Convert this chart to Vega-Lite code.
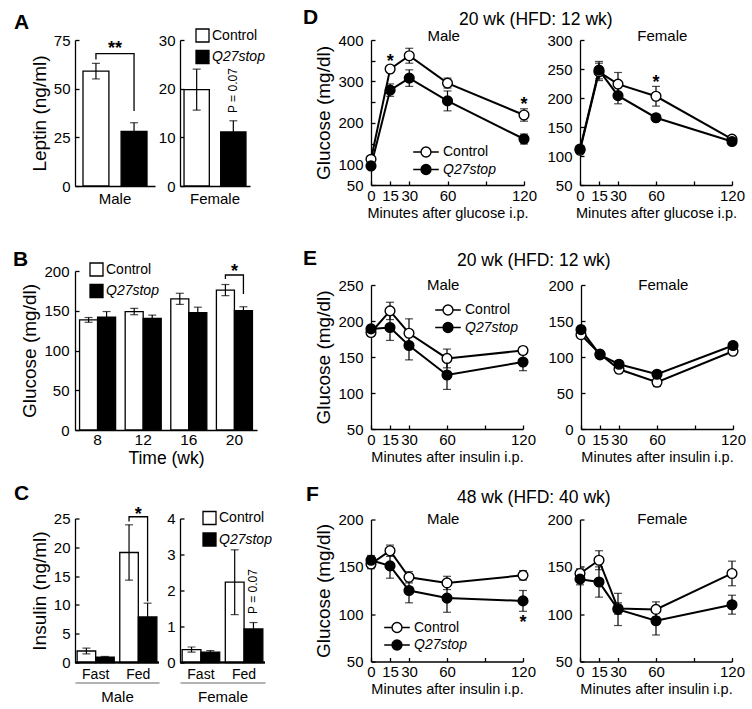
{
  "$schema": "https://vega.github.io/schema/vega-lite/v6.json",
  "padding": {"left": 13, "top": 7, "right": 0, "bottom": 0},
  "background": "white",
  "config": {
    "font": "Liberation Sans",
    "view": {"stroke": null},
    "axis": {"grid": false, "domainColor": "black", "domainWidth": 1.3, "tickColor": "black", "tickWidth": 1.3, "tickSize": -4, "labelPadding": 8, "labelFontSize": 15, "labelColor": "black", "titleFontSize": 19, "titleFontWeight": "normal", "titleColor": "black", "titlePadding": 4, "labelFlush": false, "labelOverlap": false},
    "legend": {"labelFontSize": 14, "labelColor": "black", "padding": 0, "symbolStrokeColor": "black", "symbolStrokeWidth": 1.3, "symbolOpacity": 1},
    "title": {"fontSize": 21, "fontWeight": "bold", "color": "black", "anchor": "start", "frame": "group", "baseline": "alphabetic"},
    "text": {"color": "black"}
  },
  "datasets": {
    "leptin": [
      {"sex": "Male", "group": "Control", "mean": 59, "sem": 4},
      {"sex": "Male", "group": "Q27stop", "mean": 28, "sem": 4.5},
      {"sex": "Female", "group": "Control", "mean": 19.8, "sem": 4.2},
      {"sex": "Female", "group": "Q27stop", "mean": 11.1, "sem": 2.3}
    ],
    "glucose": [
      {"week": 8, "group": "Control", "mean": 138.5, "sem": 3},
      {"week": 8, "group": "Q27stop", "mean": 142, "sem": 7},
      {"week": 12, "group": "Control", "mean": 149, "sem": 4},
      {"week": 12, "group": "Q27stop", "mean": 140.5, "sem": 4},
      {"week": 16, "group": "Control", "mean": 165, "sem": 7},
      {"week": 16, "group": "Q27stop", "mean": 147.5, "sem": 7},
      {"week": 20, "group": "Control", "mean": 176, "sem": 7},
      {"week": 20, "group": "Q27stop", "mean": 150, "sem": 5}
    ],
    "insulin": [
      {"sex": "Male", "state": "Fast", "group": "Control", "mean": 2.0, "sem": 0.5},
      {"sex": "Male", "state": "Fast", "group": "Q27stop", "mean": 0.95, "sem": 0.1},
      {"sex": "Male", "state": "Fed", "group": "Control", "mean": 19.1, "sem": 4.8},
      {"sex": "Male", "state": "Fed", "group": "Q27stop", "mean": 7.9, "sem": 2.4},
      {"sex": "Female", "state": "Fast", "group": "Control", "mean": 0.36, "sem": 0.07},
      {"sex": "Female", "state": "Fast", "group": "Q27stop", "mean": 0.29, "sem": 0.04},
      {"sex": "Female", "state": "Fed", "group": "Control", "mean": 2.23, "sem": 0.9},
      {"sex": "Female", "state": "Fed", "group": "Q27stop", "mean": 0.93, "sem": 0.18}
    ],
    "gtt": [
      {"sex": "Male", "t": 0, "group": "Control", "mean": 112, "sem": 5},
      {"sex": "Male", "t": 0, "group": "Q27stop", "mean": 96, "sem": 4},
      {"sex": "Male", "t": 15, "group": "Control", "mean": 330, "sem": 8},
      {"sex": "Male", "t": 15, "group": "Q27stop", "mean": 279, "sem": 15},
      {"sex": "Male", "t": 30, "group": "Control", "mean": 362, "sem": 18},
      {"sex": "Male", "t": 30, "group": "Q27stop", "mean": 308, "sem": 20},
      {"sex": "Male", "t": 60, "group": "Control", "mean": 296, "sem": 12},
      {"sex": "Male", "t": 60, "group": "Q27stop", "mean": 253, "sem": 24},
      {"sex": "Male", "t": 120, "group": "Control", "mean": 219, "sem": 15},
      {"sex": "Male", "t": 120, "group": "Q27stop", "mean": 161, "sem": 12},
      {"sex": "Female", "t": 0, "group": "Control", "mean": 110, "sem": 5},
      {"sex": "Female", "t": 0, "group": "Q27stop", "mean": 112, "sem": 5},
      {"sex": "Female", "t": 15, "group": "Control", "mean": 245, "sem": 15},
      {"sex": "Female", "t": 15, "group": "Q27stop", "mean": 248, "sem": 15},
      {"sex": "Female", "t": 30, "group": "Control", "mean": 224, "sem": 20},
      {"sex": "Female", "t": 30, "group": "Q27stop", "mean": 204, "sem": 14},
      {"sex": "Female", "t": 60, "group": "Control", "mean": 203, "sem": 17},
      {"sex": "Female", "t": 60, "group": "Q27stop", "mean": 166, "sem": 5},
      {"sex": "Female", "t": 120, "group": "Control", "mean": 129, "sem": 4},
      {"sex": "Female", "t": 120, "group": "Q27stop", "mean": 125, "sem": 4}
    ],
    "itt20": [
      {"sex": "Male", "t": 0, "group": "Control", "mean": 184, "sem": 5},
      {"sex": "Male", "t": 0, "group": "Q27stop", "mean": 189, "sem": 5},
      {"sex": "Male", "t": 15, "group": "Control", "mean": 214, "sem": 12},
      {"sex": "Male", "t": 15, "group": "Q27stop", "mean": 191, "sem": 18},
      {"sex": "Male", "t": 30, "group": "Control", "mean": 183, "sem": 20},
      {"sex": "Male", "t": 30, "group": "Q27stop", "mean": 166, "sem": 20},
      {"sex": "Male", "t": 60, "group": "Control", "mean": 148, "sem": 13},
      {"sex": "Male", "t": 60, "group": "Q27stop", "mean": 125, "sem": 20},
      {"sex": "Male", "t": 120, "group": "Control", "mean": 159, "sem": 5},
      {"sex": "Male", "t": 120, "group": "Q27stop", "mean": 143, "sem": 12},
      {"sex": "Female", "t": 0, "group": "Control", "mean": 131, "sem": 5},
      {"sex": "Female", "t": 0, "group": "Q27stop", "mean": 138, "sem": 5},
      {"sex": "Female", "t": 15, "group": "Control", "mean": 104, "sem": 5},
      {"sex": "Female", "t": 15, "group": "Q27stop", "mean": 103, "sem": 5},
      {"sex": "Female", "t": 30, "group": "Control", "mean": 83, "sem": 5},
      {"sex": "Female", "t": 30, "group": "Q27stop", "mean": 90, "sem": 5},
      {"sex": "Female", "t": 60, "group": "Control", "mean": 65, "sem": 6},
      {"sex": "Female", "t": 60, "group": "Q27stop", "mean": 76, "sem": 5},
      {"sex": "Female", "t": 120, "group": "Control", "mean": 108, "sem": 4},
      {"sex": "Female", "t": 120, "group": "Q27stop", "mean": 116, "sem": 4}
    ],
    "itt48": [
      {"sex": "Male", "t": 0, "group": "Control", "mean": 153, "sem": 5},
      {"sex": "Male", "t": 0, "group": "Q27stop", "mean": 157, "sem": 5},
      {"sex": "Male", "t": 15, "group": "Control", "mean": 167, "sem": 6},
      {"sex": "Male", "t": 15, "group": "Q27stop", "mean": 151, "sem": 13},
      {"sex": "Male", "t": 30, "group": "Control", "mean": 139, "sem": 6},
      {"sex": "Male", "t": 30, "group": "Q27stop", "mean": 125, "sem": 13},
      {"sex": "Male", "t": 60, "group": "Control", "mean": 133, "sem": 7},
      {"sex": "Male", "t": 60, "group": "Q27stop", "mean": 117, "sem": 15},
      {"sex": "Male", "t": 120, "group": "Control", "mean": 141, "sem": 5},
      {"sex": "Male", "t": 120, "group": "Q27stop", "mean": 114, "sem": 11},
      {"sex": "Female", "t": 0, "group": "Control", "mean": 143, "sem": 5},
      {"sex": "Female", "t": 0, "group": "Q27stop", "mean": 137, "sem": 6},
      {"sex": "Female", "t": 15, "group": "Control", "mean": 157, "sem": 10},
      {"sex": "Female", "t": 15, "group": "Q27stop", "mean": 134, "sem": 16},
      {"sex": "Female", "t": 30, "group": "Control", "mean": 106, "sem": 6},
      {"sex": "Female", "t": 30, "group": "Q27stop", "mean": 105, "sem": 17},
      {"sex": "Female", "t": 60, "group": "Control", "mean": 105, "sem": 8},
      {"sex": "Female", "t": 60, "group": "Q27stop", "mean": 93, "sem": 15},
      {"sex": "Female", "t": 120, "group": "Control", "mean": 143, "sem": 13},
      {"sex": "Female", "t": 120, "group": "Q27stop", "mean": 110, "sem": 10}
    ]
  },
  "spacing": 31,
  "resolve": {"scale": {"fill": "independent", "xOffset": "independent"}, "legend": {"fill": "independent"}},
  "hconcat": [
    {
      "spacing": 15.5,
      "resolve": {"scale": {"fill": "independent", "xOffset": "independent"}, "legend": {"fill": "independent"}},
      "vconcat": [
        {
          "spacing": 43,
          "resolve": {"scale": {"fill": "independent", "xOffset": "independent"}, "legend": {"fill": "independent"}},
          "vconcat": [
            {
              "spacing": 25,
              "bounds": "flush",
              "resolve": {"scale": {"fill": "independent", "xOffset": "independent"}, "legend": {"fill": "independent"}},
              "hconcat": [
                {
                  "width": 80, "height": 146,
                  "title": {"text": "A", "dx": -61, "offset": 0},
                  "data": {"name": "leptin"},
                  "transform": [{"filter": "datum.sex == 'Male'"}],
                  "encoding": {
                    "x": {"field": "sex", "type": "nominal", "title": null, "scale": {"paddingInner": 0, "paddingOuter": 0}, "axis": {"labelPadding": 5, "ticks": false, "labelAngle": 0, "labelFontSize": 15}},
                    "y": {"field": "mean", "type": "quantitative", "scale": {"domain": [0, 75]}, "axis": {"values": [0, 25, 50, 75], "title": "Leptin (ng/ml)", "labelPadding": 9}}
                  },
                  "layer": [
                    {"mark": {"type": "bar", "stroke": "black", "strokeWidth": 1.3},
                     "encoding": {
                       "xOffset": {"field": "group", "type": "nominal", "scale": {"domain": ["Control", "Q27stop"], "paddingInner": 0.32, "paddingOuter": 0.21}},
                       "fill": {"field": "group", "type": "nominal", "scale": {"domain": ["Control", "Q27stop"], "range": ["white", "black"]}, "legend": null}}},
                    {"mark": {"type": "errorbar", "ticks": {"size": 8}, "thickness": 1.2, "color": "black"},
                     "encoding": {"xOffset": {"field": "group", "type": "nominal"}, "yError": {"field": "sem"}}},
                    {"data": {"values": [
                      {"sex": "Male", "group": "Control", "y": 65, "ord": 0},
                      {"sex": "Male", "group": "Control", "y": 68, "ord": 1},
                      {"sex": "Male", "group": "Q27stop", "y": 68, "ord": 2},
                      {"sex": "Male", "group": "Q27stop", "y": 38.5, "ord": 3}]},
                     "mark": {"type": "line", "color": "black", "strokeWidth": 1.3},
                     "encoding": {"xOffset": {"field": "group", "type": "nominal"}, "y": {"field": "y", "type": "quantitative"}, "order": {"field": "ord", "type": "quantitative"}}},
                    {"data": {"values": [{"sex": "Male", "y": 68}]},
                     "mark": {"type": "text", "text": "**", "fontSize": 18, "fontWeight": "bold", "baseline": "alphabetic"},
                     "encoding": {"y": {"field": "y", "type": "quantitative"}}}
                  ]
                },
                {
                  "width": 70, "height": 146,
                  "data": {"name": "leptin"},
                  "transform": [{"filter": "datum.sex == 'Female'"}],
                  "encoding": {
                    "x": {"field": "sex", "type": "nominal", "title": null, "scale": {"paddingInner": 0, "paddingOuter": 0}, "axis": {"labelPadding": 5, "ticks": false, "labelAngle": 0, "labelFontSize": 15}},
                    "y": {"field": "mean", "type": "quantitative", "scale": {"domain": [0, 30]}, "axis": {"values": [0, 10, 20, 30], "title": null, "labelPadding": 9}}
                  },
                  "layer": [
                    {"mark": {"type": "bar", "stroke": "black", "strokeWidth": 1.3},
                     "encoding": {
                       "xOffset": {"field": "group", "type": "nominal", "scale": {"domain": ["Control", "Q27stop"], "paddingInner": 0.31, "paddingOuter": 0.11}},
                       "fill": {"field": "group", "type": "nominal", "scale": {"domain": ["Control", "Q27stop"], "range": ["white", "black"]},
                                "legend": {"orient": "none", "legendX": 15, "legendY": -12, "title": null, "symbolType": "square", "symbolSize": 169, "labelOffset": 2, "rowPadding": 2.5, "labelFontStyle": {"expr": "datum.label == 'Q27stop' ? 'italic' : 'normal'"}}}}},
                    {"mark": {"type": "errorbar", "ticks": {"size": 8}, "thickness": 1.2, "color": "black"},
                     "encoding": {"xOffset": {"field": "group", "type": "nominal"}, "yError": {"field": "sem"}}},
                    {"data": {"values": [{"sex": "Female", "group": "Q27stop", "y": 15}]},
                     "mark": {"type": "text", "text": "P = 0.07", "fontSize": 12, "angle": 270, "align": "left", "baseline": "middle"},
                     "encoding": {"xOffset": {"field": "group", "type": "nominal"}, "y": {"field": "y", "type": "quantitative"}}}
                  ]
                }
              ]
            },
            {
              "width": 182, "height": 159,
              "title": {"text": "B", "dx": -62, "offset": -5, "dy": 3},
              "data": {"name": "glucose"},
              "encoding": {
                "x": {"field": "week", "type": "ordinal", "scale": {"paddingInner": 0.21, "paddingOuter": 0.1}, "axis": {"title": "Time (wk)", "titleFontSize": 17.5, "labelPadding": 2, "titlePadding": 2, "ticks": false, "labelAngle": 0, "labelFontSize": 15.5}},
                "y": {"field": "mean", "type": "quantitative", "scale": {"domain": [0, 200]}, "axis": {"values": [0, 50, 100, 150, 200], "title": "Glucose (mg/dl)", "labelPadding": 10}}
              },
              "layer": [
                {"mark": {"type": "bar", "stroke": "black", "strokeWidth": 1.3},
                 "encoding": {
                   "xOffset": {"field": "group", "type": "nominal", "scale": {"domain": ["Control", "Q27stop"], "paddingInner": 0, "paddingOuter": 0}},
                   "fill": {"field": "group", "type": "nominal", "scale": {"domain": ["Control", "Q27stop"], "range": ["white", "black"]},
                            "legend": {"orient": "none", "legendX": 14, "legendY": -9, "title": null, "symbolType": "square", "symbolSize": 169, "labelOffset": 2, "rowPadding": 2.5, "labelFontStyle": {"expr": "datum.label == 'Q27stop' ? 'italic' : 'normal'"}}}}},
                {"mark": {"type": "errorbar", "ticks": {"size": 8}, "thickness": 1.2, "color": "black"},
                 "encoding": {"xOffset": {"field": "group", "type": "nominal"}, "yError": {"field": "sem"}}},
                {"data": {"values": [
                  {"week": 20, "group": "Control", "y": 190, "ord": 0},
                  {"week": 20, "group": "Control", "y": 195, "ord": 1},
                  {"week": 20, "group": "Q27stop", "y": 195, "ord": 2},
                  {"week": 20, "group": "Q27stop", "y": 171, "ord": 3}]},
                 "mark": {"type": "line", "color": "black", "strokeWidth": 1.3},
                 "encoding": {"xOffset": {"field": "group", "type": "nominal"}, "y": {"field": "y", "type": "quantitative"}, "order": {"field": "ord", "type": "quantitative"}}},
                {"data": {"values": [{"week": 20, "y": 192}]},
                 "mark": {"type": "text", "text": "*", "fontSize": 18, "fontWeight": "bold", "baseline": "alphabetic"},
                 "encoding": {"y": {"field": "y", "type": "quantitative"}}}
              ]
            }
          ]
        },
        {
          "spacing": 21,
          "bounds": "flush",
          "resolve": {"scale": {"fill": "independent", "xOffset": "independent"}, "legend": {"fill": "independent"}},
          "hconcat": [
            {
              "width": 84, "height": 144,
              "title": {"text": "C", "dx": -61, "offset": 2},
              "data": {"name": "insulin"},
              "transform": [{"filter": "datum.sex == 'Male'"}],
              "encoding": {
                "y": {"field": "mean", "type": "quantitative", "scale": {"domain": [0, 25]}, "axis": {"values": [0, 5, 10, 15, 20, 25], "title": "Insulin (ng/ml)", "labelPadding": 9}}
              },
              "layer": [
                {"mark": {"type": "bar", "stroke": "black", "strokeWidth": 1.3},
                 "encoding": {
                   "x": {"field": "state", "type": "nominal", "scale": {"paddingInner": 0.13, "paddingOuter": 0.05}, "axis": {"title": "Male", "titleFontSize": 15, "titlePadding": 7, "offset": 20, "domainColor": "#999999", "domainWidth": 1.5, "labelPadding": -15, "ticks": false, "labelAngle": 0, "labelFontSize": 14}},
                   "xOffset": {"field": "group", "type": "nominal", "scale": {"domain": ["Control", "Q27stop"], "paddingInner": 0, "paddingOuter": 0}},
                   "fill": {"field": "group", "type": "nominal", "scale": {"domain": ["Control", "Q27stop"], "range": ["white", "black"]}, "legend": null}}},
                {"mark": {"type": "errorbar", "ticks": {"size": 8}, "thickness": 1.2, "color": "black"},
                 "encoding": {"x": {"field": "state", "type": "nominal"}, "xOffset": {"field": "group", "type": "nominal"}, "yError": {"field": "sem"}}},
                {"mark": {"type": "rule", "color": "black", "strokeWidth": 1.3}, "encoding": {"y": {"datum": 0}}},
                {"data": {"values": [
                  {"state": "Fed", "group": "Control", "y": 24.5, "ord": 0},
                  {"state": "Fed", "group": "Control", "y": 25.3, "ord": 1},
                  {"state": "Fed", "group": "Q27stop", "y": 25.3, "ord": 2},
                  {"state": "Fed", "group": "Q27stop", "y": 10.6, "ord": 3}]},
                 "mark": {"type": "line", "color": "black", "strokeWidth": 1.3},
                 "encoding": {"x": {"field": "state", "type": "nominal"}, "xOffset": {"field": "group", "type": "nominal"}, "y": {"field": "y", "type": "quantitative"}, "order": {"field": "ord", "type": "quantitative"}}},
                {"data": {"values": [{"state": "Fed", "y": 24.8}]},
                 "mark": {"type": "text", "text": "*", "fontSize": 18, "fontWeight": "bold", "baseline": "alphabetic"},
                 "encoding": {"x": {"field": "state", "type": "nominal"}, "y": {"field": "y", "type": "quantitative"}}}
              ]
            },
            {
              "width": 85, "height": 144,
              "data": {"name": "insulin"},
              "transform": [{"filter": "datum.sex == 'Female'"}],
              "encoding": {
                "y": {"field": "mean", "type": "quantitative", "scale": {"domain": [0, 4]}, "axis": {"values": [0, 1, 2, 3, 4], "title": null, "labelPadding": 9}}
              },
              "layer": [
                {"mark": {"type": "bar", "stroke": "black", "strokeWidth": 1.3},
                 "encoding": {
                   "x": {"field": "state", "type": "nominal", "scale": {"paddingInner": 0.13, "paddingOuter": 0.05}, "axis": {"title": "Female", "titleFontSize": 15, "titlePadding": 7, "offset": 20, "domainColor": "#999999", "domainWidth": 1.5, "labelPadding": -15, "ticks": false, "labelAngle": 0, "labelFontSize": 14}},
                   "xOffset": {"field": "group", "type": "nominal", "scale": {"domain": ["Control", "Q27stop"], "paddingInner": 0, "paddingOuter": 0}},
                   "fill": {"field": "group", "type": "nominal", "scale": {"domain": ["Control", "Q27stop"], "range": ["white", "black"]},
                            "legend": {"orient": "none", "legendX": 22, "legendY": -8, "title": null, "symbolType": "square", "symbolSize": 169, "labelOffset": 2, "rowPadding": 2.5, "labelFontStyle": {"expr": "datum.label == 'Q27stop' ? 'italic' : 'normal'"}}}}},
                {"mark": {"type": "errorbar", "ticks": {"size": 8}, "thickness": 1.2, "color": "black"},
                 "encoding": {"x": {"field": "state", "type": "nominal"}, "xOffset": {"field": "group", "type": "nominal"}, "yError": {"field": "sem"}}},
                {"mark": {"type": "rule", "color": "black", "strokeWidth": 1.3}, "encoding": {"y": {"datum": 0}}},
                {"data": {"values": [{"state": "Fed", "group": "Q27stop", "y": 1.35}]},
                 "mark": {"type": "text", "text": "P = 0.07", "fontSize": 12, "angle": 270, "align": "left", "baseline": "middle"},
                 "encoding": {"x": {"field": "state", "type": "nominal"}, "xOffset": {"field": "group", "type": "nominal"}, "y": {"field": "y", "type": "quantitative"}}}
              ]
            }
          ]
        }
      ]
    },
    {
      "spacing": 19.5,
      "resolve": {"scale": {"fill": "independent", "xOffset": "independent"}, "legend": {"fill": "independent"}},
      "vconcat": [
        {
          "spacing": 27,
          "resolve": {"scale": {"fill": "independent", "xOffset": "independent"}, "legend": {"fill": "independent"}},
          "vconcat": [
            {
              "spacing": 56,
              "bounds": "flush",
              "resolve": {"scale": {"fill": "independent", "xOffset": "independent"}, "legend": {"fill": "independent"}},
              "hconcat": [
                {
                  "width": 153, "height": 145,
                  "title": {"text": "D", "dx": -68, "offset": 1},
                  "data": {"name": "gtt"},
                  "transform": [{"filter": "datum.sex == 'Male'"}],
                  "encoding": {
                    "x": {"field": "t", "type": "quantitative", "scale": {"domain": [0, 120], "nice": false}, "axis": {"values": [0, 15, 30, 60, 90, 120], "labelExpr": "datum.value == 90 ? '' : datum.label", "title": "Minutes after glucose i.p.", "titleFontSize": 14.5, "titlePadding": 3, "labelPadding": 7}},
                    "y": {"field": "mean", "type": "quantitative", "scale": {"domain": [50, 400], "nice": false, "zero": false}, "axis": {"values": [50, 100, 150, 200, 250, 300, 350, 400], "labelExpr": "datum.value == 150 || datum.value == 250 || datum.value == 350 ? '' : datum.label", "title": "Glucose (mg/dl)", "labelPadding": 12}}
                  },
                  "layer": [
                    {"mark": {"type": "errorbar", "ticks": {"size": 8}, "thickness": 1.2, "color": "black"}, "encoding": {"yError": {"field": "sem"}}},
                    {"mark": {"type": "line", "color": "black", "strokeWidth": 2}, "encoding": {"detail": {"field": "group", "type": "nominal"}}},
                    {"mark": {"type": "point", "filled": true, "size": 95, "stroke": "black", "strokeWidth": 1.4, "opacity": 1},
                     "encoding": {"fill": {"field": "group", "type": "nominal", "scale": {"domain": ["Control", "Q27stop"], "range": ["white", "black"]},
                       "legend": {"orient": "none", "legendX": 46, "legendY": 103, "title": null, "symbolType": "M-1.6,0L-0.62,0M0.62,0L1.6,0M0.62,0A0.62,0.62,0,1,1,-0.62,0A0.62,0.62,0,1,1,0.62,0Z", "symbolSize": 256, "symbolStrokeWidth": 1.4, "labelOffset": 8, "rowPadding": 0.5, "labelFontStyle": {"expr": "datum.label == 'Q27stop' ? 'italic' : 'normal'"}}}}},
                    {"data": {"values": [{"t": 57, "y": 400, "label": "Male"}]}, "mark": {"type": "text", "fontSize": 15, "baseline": "alphabetic", "dy": 1}, "encoding": {"x": {"field": "t", "type": "quantitative"}, "y": {"field": "y", "type": "quantitative"}, "text": {"field": "label", "type": "nominal"}}},
                    {"data": {"values": [{"t": 15, "y": 336}, {"t": 120, "y": 231}]}, "mark": {"type": "text", "text": "*", "fontSize": 18, "fontWeight": "bold", "baseline": "alphabetic"}, "encoding": {"x": {"field": "t", "type": "quantitative"}, "y": {"field": "y", "type": "quantitative"}}}
                  ]
                },
                {
                  "width": 152, "height": 145,
                  "title": {"text": "20 wk (HFD: 12 wk)", "fontSize": 17.5, "fontWeight": "normal", "dx": -121, "offset": 1},
                  "data": {"name": "gtt"},
                  "transform": [{"filter": "datum.sex == 'Female'"}],
                  "encoding": {
                    "x": {"field": "t", "type": "quantitative", "scale": {"domain": [0, 120], "nice": false}, "axis": {"values": [0, 15, 30, 60, 90, 120], "labelExpr": "datum.value == 90 ? '' : datum.label", "title": "Minutes after glucose i.p.", "titleFontSize": 14.5, "titlePadding": 3, "labelPadding": 7}},
                    "y": {"field": "mean", "type": "quantitative", "scale": {"domain": [50, 300], "nice": false, "zero": false}, "axis": {"values": [50, 100, 150, 200, 250, 300], "title": null, "labelPadding": 12}}
                  },
                  "layer": [
                    {"mark": {"type": "errorbar", "ticks": {"size": 8}, "thickness": 1.2, "color": "black"}, "encoding": {"yError": {"field": "sem"}}},
                    {"mark": {"type": "line", "color": "black", "strokeWidth": 2}, "encoding": {"detail": {"field": "group", "type": "nominal"}}},
                    {"mark": {"type": "point", "filled": true, "size": 95, "stroke": "black", "strokeWidth": 1.4, "opacity": 1},
                     "encoding": {"fill": {"field": "group", "type": "nominal", "scale": {"domain": ["Control", "Q27stop"], "range": ["white", "black"]}, "legend": null}}},
                    {"data": {"values": [{"t": 65, "y": 300, "label": "Female"}]}, "mark": {"type": "text", "fontSize": 15, "baseline": "alphabetic", "dy": 1}, "encoding": {"x": {"field": "t", "type": "quantitative"}, "y": {"field": "y", "type": "quantitative"}, "text": {"field": "label", "type": "nominal"}}},
                    {"data": {"values": [{"t": 60, "y": 218}]}, "mark": {"type": "text", "text": "*", "fontSize": 18, "fontWeight": "bold", "baseline": "alphabetic"}, "encoding": {"x": {"field": "t", "type": "quantitative"}, "y": {"field": "y", "type": "quantitative"}}}
                  ]
                }
              ]
            },
            {
              "spacing": 58,
              "bounds": "flush",
              "resolve": {"scale": {"fill": "independent", "xOffset": "independent"}, "legend": {"fill": "independent"}},
              "hconcat": [
                {
                  "width": 152, "height": 144,
                  "title": {"text": "E", "dx": -68, "offset": 9.5},
                  "data": {"name": "itt20"},
                  "transform": [{"filter": "datum.sex == 'Male'"}],
                  "encoding": {
                    "x": {"field": "t", "type": "quantitative", "scale": {"domain": [0, 120], "nice": false}, "axis": {"values": [0, 15, 30, 60, 90, 120], "labelExpr": "datum.value == 90 ? '' : datum.label", "title": "Minutes after insulin i.p.", "titleFontSize": 14.5, "titlePadding": 3, "labelPadding": 7}},
                    "y": {"field": "mean", "type": "quantitative", "scale": {"domain": [50, 250], "nice": false, "zero": false}, "axis": {"values": [50, 100, 150, 200, 250], "title": "Glucose (mg/dl)", "labelPadding": 12}}
                  },
                  "layer": [
                    {"mark": {"type": "errorbar", "ticks": {"size": 8}, "thickness": 1.2, "color": "black"}, "encoding": {"yError": {"field": "sem"}}},
                    {"mark": {"type": "line", "color": "black", "strokeWidth": 2}, "encoding": {"detail": {"field": "group", "type": "nominal"}}},
                    {"mark": {"type": "point", "filled": true, "size": 95, "stroke": "black", "strokeWidth": 1.4, "opacity": 1},
                     "encoding": {"fill": {"field": "group", "type": "nominal", "scale": {"domain": ["Control", "Q27stop"], "range": ["white", "black"]},
                       "legend": {"orient": "none", "legendX": 68, "legendY": 16, "title": null, "symbolType": "M-1.6,0L-0.62,0M0.62,0L1.6,0M0.62,0A0.62,0.62,0,1,1,-0.62,0A0.62,0.62,0,1,1,0.62,0Z", "symbolSize": 256, "symbolStrokeWidth": 1.4, "labelOffset": 8, "rowPadding": 0.5, "labelFontStyle": {"expr": "datum.label == 'Q27stop' ? 'italic' : 'normal'"}}}}},
                    {"data": {"values": [{"t": 57, "y": 250, "label": "Male"}]}, "mark": {"type": "text", "fontSize": 15, "baseline": "alphabetic", "dy": 5}, "encoding": {"x": {"field": "t", "type": "quantitative"}, "y": {"field": "y", "type": "quantitative"}, "text": {"field": "label", "type": "nominal"}}}
                  ]
                },
                {
                  "width": 152, "height": 144,
                  "title": {"text": "20 wk (HFD: 12 wk)", "fontSize": 17.5, "fontWeight": "normal", "dx": -124, "offset": 9},
                  "data": {"name": "itt20"},
                  "transform": [{"filter": "datum.sex == 'Female'"}],
                  "encoding": {
                    "x": {"field": "t", "type": "quantitative", "scale": {"domain": [0, 120], "nice": false}, "axis": {"values": [0, 15, 30, 60, 90, 120], "labelExpr": "datum.value == 90 ? '' : datum.label", "title": "Minutes after insulin i.p.", "titleFontSize": 14.5, "titlePadding": 3, "labelPadding": 7}},
                    "y": {"field": "mean", "type": "quantitative", "scale": {"domain": [0, 200], "nice": false}, "axis": {"values": [0, 50, 100, 150, 200], "title": null, "labelPadding": 12}}
                  },
                  "layer": [
                    {"mark": {"type": "errorbar", "ticks": {"size": 8}, "thickness": 1.2, "color": "black"}, "encoding": {"yError": {"field": "sem"}}},
                    {"mark": {"type": "line", "color": "black", "strokeWidth": 2}, "encoding": {"detail": {"field": "group", "type": "nominal"}}},
                    {"mark": {"type": "point", "filled": true, "size": 95, "stroke": "black", "strokeWidth": 1.4, "opacity": 1},
                     "encoding": {"fill": {"field": "group", "type": "nominal", "scale": {"domain": ["Control", "Q27stop"], "range": ["white", "black"]}, "legend": null}}},
                    {"data": {"values": [{"t": 65, "y": 200, "label": "Female"}]}, "mark": {"type": "text", "fontSize": 15, "baseline": "alphabetic", "dy": 5}, "encoding": {"x": {"field": "t", "type": "quantitative"}, "y": {"field": "y", "type": "quantitative"}, "text": {"field": "label", "type": "nominal"}}}
                  ]
                }
              ]
            }
          ]
        },
        {
          "spacing": 57,
          "bounds": "flush",
          "resolve": {"scale": {"fill": "independent", "xOffset": "independent"}, "legend": {"fill": "independent"}},
          "hconcat": [
            {
              "width": 152, "height": 142,
              "title": {"text": "F", "dx": -65, "offset": 7},
              "data": {"name": "itt48"},
              "transform": [{"filter": "datum.sex == 'Male'"}],
              "encoding": {
                "x": {"field": "t", "type": "quantitative", "scale": {"domain": [0, 120], "nice": false}, "axis": {"values": [0, 15, 30, 60, 90, 120], "labelExpr": "datum.value == 90 ? '' : datum.label", "title": "Minutes after insulin i.p.", "titleFontSize": 14.5, "titlePadding": 3, "labelPadding": 7}},
                "y": {"field": "mean", "type": "quantitative", "scale": {"domain": [50, 200], "nice": false, "zero": false}, "axis": {"values": [50, 100, 150, 200], "title": "Glucose (mg/dl)", "labelPadding": 12}}
              },
              "layer": [
                {"mark": {"type": "errorbar", "ticks": {"size": 8}, "thickness": 1.2, "color": "black"}, "encoding": {"yError": {"field": "sem"}}},
                {"mark": {"type": "line", "color": "black", "strokeWidth": 2}, "encoding": {"detail": {"field": "group", "type": "nominal"}}},
                {"mark": {"type": "point", "filled": true, "size": 95, "stroke": "black", "strokeWidth": 1.4, "opacity": 1},
                 "encoding": {"fill": {"field": "group", "type": "nominal", "scale": {"domain": ["Control", "Q27stop"], "range": ["white", "black"]},
                   "legend": {"orient": "none", "legendX": 17, "legendY": 99, "title": null, "symbolType": "M-1.6,0L-0.62,0M0.62,0L1.6,0M0.62,0A0.62,0.62,0,1,1,-0.62,0A0.62,0.62,0,1,1,0.62,0Z", "symbolSize": 256, "symbolStrokeWidth": 1.4, "labelOffset": 8, "rowPadding": 0.5, "labelFontStyle": {"expr": "datum.label == 'Q27stop' ? 'italic' : 'normal'"}}}}},
                {"data": {"values": [{"t": 57, "y": 200, "label": "Male"}]}, "mark": {"type": "text", "fontSize": 15, "baseline": "alphabetic", "dy": 4}, "encoding": {"x": {"field": "t", "type": "quantitative"}, "y": {"field": "y", "type": "quantitative"}, "text": {"field": "label", "type": "nominal"}}},
                {"data": {"values": [{"t": 120, "y": 85}]}, "mark": {"type": "text", "text": "*", "fontSize": 18, "fontWeight": "bold", "baseline": "alphabetic"}, "encoding": {"x": {"field": "t", "type": "quantitative"}, "y": {"field": "y", "type": "quantitative"}}}
              ]
            },
            {
              "width": 152, "height": 142,
              "title": {"text": "48 wk (HFD: 40 wk)", "fontSize": 17.5, "fontWeight": "normal", "dx": -123, "offset": 5},
              "data": {"name": "itt48"},
              "transform": [{"filter": "datum.sex == 'Female'"}],
              "encoding": {
                "x": {"field": "t", "type": "quantitative", "scale": {"domain": [0, 120], "nice": false}, "axis": {"values": [0, 15, 30, 60, 90, 120], "labelExpr": "datum.value == 90 ? '' : datum.label", "title": "Minutes after insulin i.p.", "titleFontSize": 14.5, "titlePadding": 3, "labelPadding": 7}},
                "y": {"field": "mean", "type": "quantitative", "scale": {"domain": [50, 200], "nice": false, "zero": false}, "axis": {"values": [50, 100, 150, 200], "title": null, "labelPadding": 12}}
              },
              "layer": [
                {"mark": {"type": "errorbar", "ticks": {"size": 8}, "thickness": 1.2, "color": "black"}, "encoding": {"yError": {"field": "sem"}}},
                {"mark": {"type": "line", "color": "black", "strokeWidth": 2}, "encoding": {"detail": {"field": "group", "type": "nominal"}}},
                {"mark": {"type": "point", "filled": true, "size": 95, "stroke": "black", "strokeWidth": 1.4, "opacity": 1},
                 "encoding": {"fill": {"field": "group", "type": "nominal", "scale": {"domain": ["Control", "Q27stop"], "range": ["white", "black"]}, "legend": null}}},
                {"data": {"values": [{"t": 65, "y": 200, "label": "Female"}]}, "mark": {"type": "text", "fontSize": 15, "baseline": "alphabetic", "dy": 4}, "encoding": {"x": {"field": "t", "type": "quantitative"}, "y": {"field": "y", "type": "quantitative"}, "text": {"field": "label", "type": "nominal"}}}
              ]
            }
          ]
        }
      ]
    }
  ]
}
